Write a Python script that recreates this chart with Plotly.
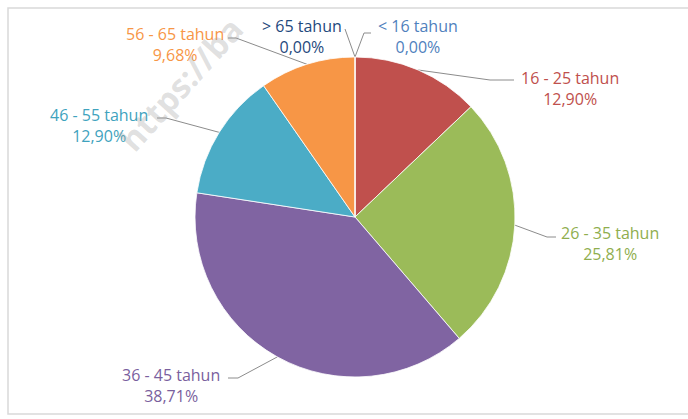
import numpy as np
import plotly.graph_objects as go

# Age groups and respondent counts
categories = ["< 16 tahun", "16 - 25 tahun", "26 - 35 tahun", "36 - 45 tahun",
              "46 - 55 tahun", "56 - 65 tahun", "> 65 tahun"]
counts = [0, 4, 8, 12, 4, 3, 0]

slice_colors = ["#4F81BD", "#C0504D", "#9BBB59", "#8064A2", "#4BACC6", "#F79646", "#1F497D"]
label_colors = ["#4F81BD", "#C0504D", "#8FAE4E", "#7A5F9E", "#3FA3BE", "#F79646", "#1F497D"]

# Label placement (pixel space): text centre, elbow of the leader line, line end
label_xy = [(418, 36), (570, 88), (610, 243), (171, 385), (99, 125), (175, 44), (302, 36)]
elbow_xy = [(364, 33), (490, 80), (547, 237), (238, 378), (166, 118), (236, 38), (347, 33)]
end_xy = [(371, 33), (514, 80), (556, 237), (228, 378), (157, 118), (228, 38), (345, 29)]

W, H = 688, 419
CX, CY, R = 355, 217, 160

total = sum(counts)
pct = [100.0 * c / total for c in counts]
pct_text = [f"{p:.2f}%".replace(".", ",") for p in pct]

fig = go.Figure()

fig.add_trace(go.Pie(
    labels=categories,
    values=counts,
    sort=False,
    direction="clockwise",
    rotation=0,
    marker=dict(colors=slice_colors, line=dict(color="white", width=0.8)),
    textinfo="none",
    hoverinfo="label+percent",
    showlegend=False,
    domain=dict(x=[(CX - R) / W, (CX + R) / W], y=[(H - CY - R) / H, (H - CY + R) / H]),
))

# Leader lines from each slice's outer mid-point
cum = np.cumsum([0] + counts[:-1])
for i, c in enumerate(counts):
    theta = 2 * np.pi * (cum[i] + c / 2) / total
    ax = CX + R * np.sin(theta)
    ay = CY - R * np.cos(theta)
    fig.add_trace(go.Scatter(
        x=[ax, elbow_xy[i][0], end_xy[i][0]],
        y=[ay, elbow_xy[i][1], end_xy[i][1]],
        mode="lines",
        line=dict(color="#8c8c8c", width=1),
        hoverinfo="skip",
        showlegend=False,
        xaxis="x", yaxis="y",
    ))
    fig.add_annotation(
        x=label_xy[i][0], y=label_xy[i][1], xref="x", yref="y",
        text=f"{categories[i]}<br>{pct_text[i]}",
        showarrow=False, xanchor="center", yanchor="middle", align="center",
        font=dict(family="Open Sans", size=16, color=label_colors[i]),
    )

# Site watermark
fig.add_annotation(
    x=180, y=84, xref="x", yref="y", text="<b>https://ba</b>", showarrow=False,
    textangle=-48, font=dict(family="Open Sans", size=33, color="rgba(160,160,160,0.33)"),
)

# Chart area frame
fig.add_shape(type="rect", x0=8, y0=8, x1=W + 5, y1=414, xref="x", yref="y",
              line=dict(color="#d9d9d9", width=1.5), fillcolor="rgba(0,0,0,0)", layer="below")

fig.update_layout(
    width=W, height=H,
    margin=dict(l=0, r=0, t=0, b=0),
    paper_bgcolor="white", plot_bgcolor="rgba(0,0,0,0)",
    xaxis=dict(range=[0, W], visible=False, domain=[0, 1], fixedrange=True),
    yaxis=dict(range=[H, 0], visible=False, domain=[0, 1], fixedrange=True),
)

fig.write_html("out.html")
